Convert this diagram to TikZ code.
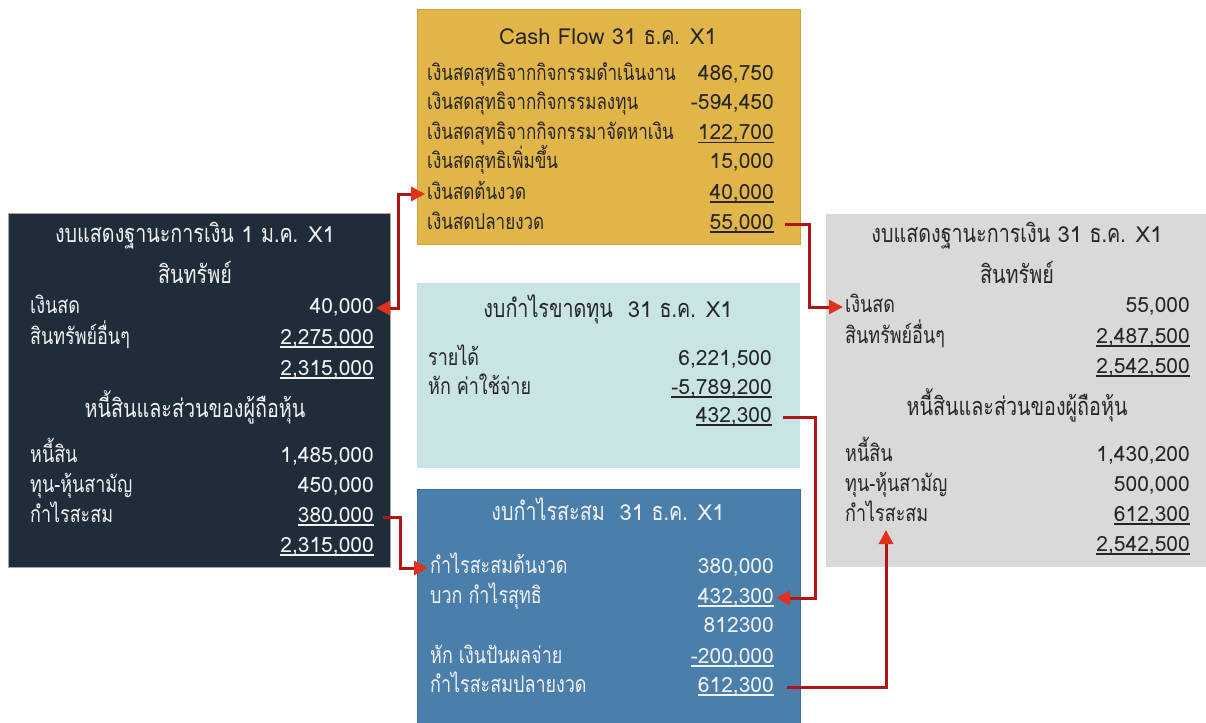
\documentclass[tikz,border=0pt]{standalone}
\usepackage{fontspec}
\setmainfont[Script=Thai]{Loma}
\newfontfamily\thfont[Script=Thai,FakeStretch=0.78,Scale=1.15]{Loma}
\newcommand\T[1]{{\thfont #1}}
\usetikzlibrary{arrows.meta}
\definecolor{navybox}{HTML}{1F2C3A}
\definecolor{goldbox}{HTML}{E2B548}
\definecolor{goldline}{HTML}{D0A23A}
\definecolor{cyanbox}{HTML}{C9E4E4}
\definecolor{steelbox}{HTML}{4A7FAC}
\definecolor{steelline}{HTML}{3E6E98}
\definecolor{greybox}{HTML}{DAD9DA}
\definecolor{darktxt}{HTML}{262626}
\definecolor{lighttxt}{HTML}{F2F2F2}
\definecolor{linered}{HTML}{B01414}
\definecolor{tipred}{HTML}{E0301E}
\newcommand\ul[1]{\setbox0\hbox{#1}\rlap{\rule[-3.5pt]{\wd0}{1.1pt}}\box0}
\tikzset{
  txt/.style={inner ysep=0pt, inner xsep=2pt, text height=14pt, text depth=4pt},
  lab/.style={txt, anchor=west, font=\fontsize{20}{24}\selectfont\thfont},
  cflab/.style={txt, anchor=west, font=\fontsize{19}{23}\selectfont\thfont},
  val/.style={txt, anchor=east, font=\fontsize{21}{24}\selectfont},
  ttl/.style={txt, anchor=center, font=\fontsize{22}{26}\selectfont},
  hdr/.style={txt, anchor=center, font=\fontsize{22}{26}\selectfont\thfont},
  conn/.style={draw=linered, line width=3pt, -{Triangle[length=14pt,width=14pt,color=tipred]}},
  conn2/.style={draw=linered, line width=3pt, {Triangle[length=14pt,width=14pt,color=tipred]}-{Triangle[length=14pt,width=14pt,color=tipred]}},
}
\begin{document}
\begin{tikzpicture}[x=1pt,y=-1pt]
\useasboundingbox (0,0) rectangle (1206,722);
\fill[white] (0,0) rectangle (1206,722);
% boxes
\filldraw[fill=navybox, draw=gray!70, line width=1pt] (8,213) rectangle (390,567);
\filldraw[fill=goldbox, draw=goldline, line width=1pt] (417,10) rectangle (800,244);
\fill[cyanbox] (417,283) rectangle (800,468);
\filldraw[fill=steelbox, draw=steelline, line width=1pt] (417,489) rectangle (800,724);
\fill[greybox] (826,214) rectangle (1206,567);

% left box
\begin{scope}[every node/.append style={text=lighttxt}]
\node[ttl] (Lt) at (195,237) {\T{งบแสดงฐานะการเงิน} 1 \T{ม.ค.} X1};
\node[hdr] (Lh1) at (195,278) {สินทรัพย์};
\node[lab] (Ll1) at (28,308) {เงินสด};
\node[val] (Lv1) at (376,308) {40,000};
\node[lab] (Ll2) at (28,339) {สินทรัพย์อื่นๆ};
\node[val] (Lv2) at (376,339) {\ul{2,275,000}};
\node[val] (Lv3) at (376,370) {\ul{2,315,000}};
\node[hdr] (Lh2) at (195,412) {หนี้สินและส่วนของผู้ถือหุ้น};
\node[lab] (Ll5) at (28,457) {หนี้สิน};
\node[val] (Lv5) at (376,457) {1,485,000};
\node[lab] (Ll6) at (28,487) {ทุน-หุ้นสามัญ};
\node[val] (Lv6) at (376,487) {450,000};
\node[lab] (Ll7) at (28,517) {กำไรสะสม};
\node[val] (Lv7) at (376,517) {\ul{380,000}};
\node[val] (Lv8) at (376,547) {\ul{2,315,000}};
\end{scope}

% cash flow box
\begin{scope}[every node/.append style={text=darktxt}]
\node[ttl] (Ct) at (608,40) {Cash Flow 31 \T{ธ.ค.} X1};
\node[cflab] (Cl1) at (425,76) {เงินสดสุทธิจากกิจกรรมดำเนินงาน};
\node[val] (Cv1) at (776,76) {486,750};
\node[cflab] (Cl2) at (425,105) {เงินสดสุทธิจากกิจกรรมลงทุน};
\node[val] (Cv2) at (776,105) {-594,450};
\node[cflab] (Cl3) at (425,135) {เงินสดสุทธิจากกิจกรรมาจัดหาเงิน};
\node[val] (Cv3) at (776,135) {\ul{122,700}};
\node[cflab] (Cl4) at (425,164) {เงินสดสุทธิเพิ่มขึ้น};
\node[val] (Cv4) at (776,164) {15,000};
\node[cflab] (Cl5) at (425,194) {เงินสดต้นงวด};
\node[val] (Cv5) at (776,194) {\ul{40,000}};
\node[cflab] (Cl6) at (425,224) {เงินสดปลายงวด};
\node[val] (Cv6) at (776,224) {\ul{55,000}};

% income statement
\node[ttl] (Mt) at (608,312) {\T{งบกำไรขาดทุน}\ \ 31 \T{ธ.ค.} X1};
\node[lab] (Ml1) at (426,360) {รายได้};
\node[val] (Mv1) at (774,360) {6,221,500};
\node[lab] (Ml2) at (426,389) {หัก ค่าใช้จ่าย};
\node[val] (Mv2) at (774,389) {\ul{-5,789,200}};
\node[val] (Mv3) at (774,417) {\ul{432,300}};

% right box
\node[ttl] (Rt) at (1017,237) {\T{งบแสดงฐานะการเงิน} 31 \T{ธ.ค.} X1};
\node[hdr] (Rh1) at (1017,278) {สินทรัพย์};
\node[lab] (Rl1) at (843,307) {เงินสด};
\node[val] (Rv1) at (1192,307) {55,000};
\node[lab] (Rl2) at (843,338) {สินทรัพย์อื่นๆ};
\node[val] (Rv2) at (1192,338) {\ul{2,487,500}};
\node[val] (Rv3) at (1192,368) {\ul{2,542,500}};
\node[hdr] (Rh2) at (1017,410) {หนี้สินและส่วนของผู้ถือหุ้น};
\node[lab] (Rl5) at (843,456) {หนี้สิน};
\node[val] (Rv5) at (1192,456) {1,430,200};
\node[lab] (Rl6) at (843,486) {ทุน-หุ้นสามัญ};
\node[val] (Rv6) at (1192,486) {500,000};
\node[lab] (Rl7) at (843,516) {กำไรสะสม};
\node[val] (Rv7) at (1192,516) {\ul{612,300}};
\node[val] (Rv8) at (1192,546) {\ul{2,542,500}};
\end{scope}

% retained earnings box
\begin{scope}[every node/.append style={text=lighttxt}]
\node[ttl] (Bt) at (608,515) {\T{งบกำไรสะสม}\ \ 31 \T{ธ.ค.} X1};
\node[lab] (Bl1) at (428,568) {กำไรสะสมต้นงวด};
\node[val] (Bv1) at (776,568) {380,000};
\node[lab] (Bl2) at (428,598) {บวก กำไรสุทธิ};
\node[val] (Bv2) at (776,598) {\ul{432,300}};
\node[val] (Bv3) at (776,627) {812300};
\node[lab] (Bl4) at (428,658) {หัก เงินปันผลจ่าย};
\node[val] (Bv4) at (776,658) {\ul{-200,000}};
\node[lab] (Bl5) at (428,687) {กำไรสะสมปลายงวด};
\node[val] (Bv5) at (776,687) {\ul{612,300}};
\end{scope}

% connectors
\coordinate (j1) at (398,0);
\coordinate (j2) at (809,0);
\coordinate (j3) at (400,0);
\coordinate (j4) at (815,0);
\coordinate (j5) at (886,530);
\draw[conn2] (Lv1.east) -- (Lv1.east -| j1) |- (Cl5.west);
\draw[conn, shorten <=9pt] (Cv6.east) -- (Cv6.east -| j2) |- (Rl1.west);
\draw[conn, shorten <=7pt] (Lv7.east) -- (Lv7.east -| j3) |- (Bl1.west);
\draw[conn, shorten <=9pt] (Mv3.east) -- (Mv3.east -| j4) |- (Bv2.east);
\draw[conn, shorten <=11pt] (Bv5.east) -| (j5);
\end{tikzpicture}
\end{document}
